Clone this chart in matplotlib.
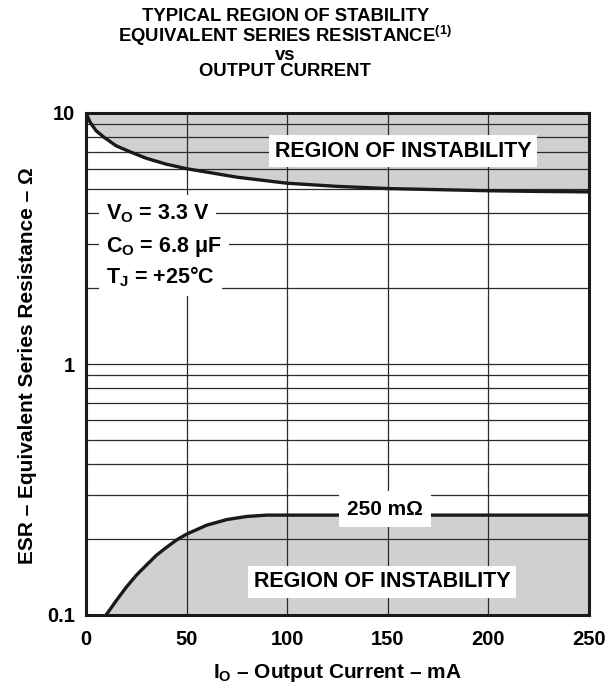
import matplotlib
matplotlib.use('Agg')
import matplotlib.pyplot as plt
from matplotlib.ticker import FixedLocator, NullFormatter

# Dados
io_sup = [0, 2, 5, 9, 15, 22, 30, 40, 50, 75, 100, 125, 150, 175, 200, 225, 250]
esr_sup = [10, 9.2, 8.5, 8.0, 7.4, 7.0, 6.6, 6.25, 6.0, 5.55, 5.25, 5.1, 5.0, 4.95, 4.9, 4.87, 4.85]

io_inf = [10, 15, 20, 25, 30, 35, 40, 45, 50, 60, 70, 80, 90, 95, 250]
esr_inf = [0.1, 0.114, 0.129, 0.144, 0.158, 0.173, 0.186, 0.199, 0.21, 0.228, 0.24, 0.247, 0.25, 0.25, 0.25]

x_ticks = [0, 50, 100, 150, 200, 250]
y_ticks = [0.1, 1, 10]
y_labels = ['0.1', '1', '10']

titulo = ['TYPICAL REGION OF STABILITY',
          'EQUIVALENT SERIES RESISTANCE$^{(1)}$',
          'vs',
          'OUTPUT CURRENT']
condicoes = ['$V_O$ = 3.3 V', '$C_O$ = 6.8 μF', '$T_J$ = +25°C']

plt.rcParams['font.family'] = ['Liberation Sans', 'DejaVu Sans']
plt.rcParams['font.weight'] = 'bold'
plt.rcParams['mathtext.fontset'] = 'custom'
plt.rcParams['mathtext.rm'] = 'Liberation Sans:bold'
plt.rcParams['mathtext.it'] = 'Liberation Sans:bold'
plt.rcParams['mathtext.bf'] = 'Liberation Sans:bold'

cinza = '#cfd0d2'
preto = '#1a1a1a'

fig = plt.figure(figsize=(6.16, 6.92), dpi=100)
ax = fig.add_axes([86/616, 1-615/692, 503/616, 502/692])

# Regiões de instabilidade
ax.fill_between(io_sup, esr_sup, 10, color=cinza, lw=0)
ax.fill_between(io_inf, 0.1, esr_inf, color=cinza, lw=0)
ax.plot(io_sup, esr_sup, color=preto, lw=2.4, solid_capstyle='butt')
ax.plot(io_inf, esr_inf, color=preto, lw=2.4, solid_capstyle='butt')

ax.set_yscale('log')
ax.set_xlim(0, 250)
ax.set_ylim(0.1, 10)
ax.xaxis.set_major_locator(FixedLocator(x_ticks))
ax.yaxis.set_major_locator(FixedLocator(y_ticks))
ax.set_yticklabels(y_labels)
ax.yaxis.set_minor_formatter(NullFormatter())
ax.grid(which='both', color='#2a2a2a', lw=0.9)
ax.tick_params(which='both', length=0, labelsize=14.5)
ax.tick_params(axis='x', pad=11)
ax.tick_params(axis='y', pad=8)
for s in ax.spines.values():
    s.set_linewidth(2.2)
    s.set_color(preto)

# Rótulos dos eixos
fig.text(86/616 + 503/616/2, 1-673/692, '$I_O$ – Output Current – mA', ha='center', va='center', fontsize=15)
fig.text(28/616, 1-366/692, 'ESR – Equivalent Series Resistance – Ω', ha='center', va='center',
         rotation=90, fontsize=15)

ax.text(0.63, 0.924, 'REGION OF INSTABILITY', transform=ax.transAxes, ha='center', va='center',
        fontsize=15.5, bbox=dict(facecolor='white', edgecolor='none', pad=4))
ax.text(0.589, 0.066, 'REGION OF INSTABILITY', transform=ax.transAxes, ha='center', va='center',
        fontsize=15.5, bbox=dict(facecolor='white', edgecolor='none', pad=4))
ax.text(0.594, 0.211, '250 mΩ', transform=ax.transAxes, ha='center', va='center',
        fontsize=15, bbox=dict(facecolor='white', edgecolor='none', pad=6))

caixa = dict(facecolor='white', edgecolor='none', pad=5)
for yy, txt in zip([0.80, 0.733, 0.673], condicoes):
    ax.text(0.04, yy, txt, transform=ax.transAxes, ha='left', va='center', fontsize=15.5, bbox=caixa)

# Título em um bloco só
fig.text(0.463, 1-44/692, '\n'.join(titulo), ha='center', va='center', fontsize=13.3,
         linespacing=0.95, multialignment='center')

plt.savefig('out.png', dpi=100)
